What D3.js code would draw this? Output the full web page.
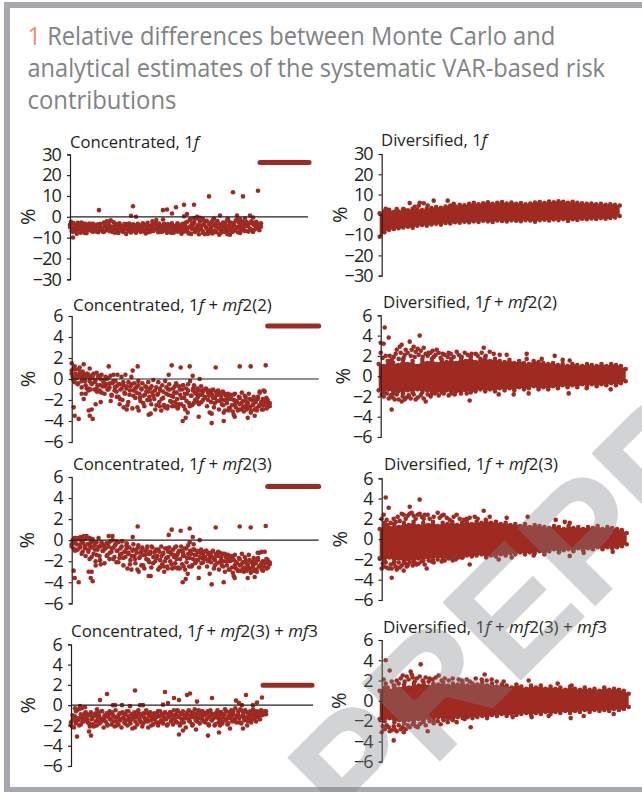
<!DOCTYPE html>
<html>
<head>
<meta charset="utf-8">
<script src="https://cdn.jsdelivr.net/npm/d3@7"></script>
<style>
  html, body { margin: 0; padding: 0; background: #fff; overflow: hidden; }
  svg { display: block; }
  text { font-family: "Open Sans", sans-serif; fill: #231f20; }
</style>
</head>
<body>
<div id="chart"></div>
<script>
// all values. x is asset rank, 0-240, y is the % difference

var titleLines = [["1", " Relative differences between Monte Carlo and"],
                  ["", "analytical estimates of the systematic VAR-based risk"],
                  ["", "contributions"]];

// odd entries are set in italics
var panelTitles = [
  ["Concentrated, 1", "f"],
  ["Diversified, 1", "f"],
  ["Concentrated, 1", "f", " + ", "mf", "2(2)"],
  ["Diversified, 1", "f", " + ", "mf", "2(2)"],
  ["Concentrated, 1", "f", " + ", "mf", "2(3)"],
  ["Diversified, 1", "f", " + ", "mf", "2(3)"],
  ["Concentrated, 1", "f", " + ", "mf", "2(3) + ", "mf", "3"],
  ["Diversified, 1", "f", " + ", "mf", "2(3) + ", "mf", "3"]
];

var wideTicks = [-30, -20, -10, 0, 10, 20, 30];
var narrowTicks = [-6, -4, -2, 0, 2, 4, 6];

// concentrated portfolios: the big position is the flat run at the far right
var bandValues = [26.1, 5.05, 5.1, 1.95];
var bandStart = [190, 196, 196, 192];
var bandEnd = [239, 247, 247, 241];
var lastRank = [191, 198, 198, 195];

var conc1 = [
-3.8,-2.4,-5.1,-7.2,-3.3,-6.1,-4.4,-8.1,-2.9,-5.6,-3.6,-7.6,-4.8,-3.1,-6.4,-5.2,-3.4,-7.9,-4.2,-5.9,
-3.2,-6.6,-4.6,-7.1,-3.5,-5.4,-4.1,-6.9,-3.7,-7.4,-4.9,-3.3,-6.2,-5.5,-7.2,-2.8,-4.4,-6.6,-2.1,-5.3,
-3.9,-6.9,-1.7,-4.7,-7.3,-2.6,-5.6,-3.4,-6.3,-4.2,-7.8,-3.1,-5.4,-6.6,-4.5,-7.2,-3.5,-5.8,-8.2,-4.3,
-6.1,-3.2,-7.1,-4.8,-5.7,-3.6,-6.7,-4.2,-7.6,-5.1,-3.3,-6.3,-4.6,-7.3,-5.4,-3.1,-6.8,-4.1,-8.0,-5.6,
-2.9,-6.2,-4.4,-7.1,-5.2,-2.1,-6.5,-3.4,-5.9,-1.5,-4.7,-7.4,-3.2,-6.0,-4.4,-7.2,-5.1,-3.3,-6.6,-4.9,
-7.7,-3.6,-5.6,-4.2,-6.9,-3.1,-5.3,-7.6,-4.5,-6.2,-3.8,-7.1,-5.0,-6.5,-4.1,-8.1,-3.4,-5.8,-7.0,-4.6,
-6.3,-2.4,-7.5,-4.9,-1.2,-8.2,-3.3,-5.5,-2.6,-7.2,-0.9,-6.1,-4.0,-8.4,-2.2,-5.7,-1.4,-7.0,-3.6,-8.3,
-4.8,-1.9,-6.4,-3.0,-7.7,-5.1,-2.5,-8.0,-4.2,-6.6,-3.4,-7.4,-2.0,-5.5,-8.6,-3.8,-6.0,-4.6,-2.7,-7.2,
-3.5,-5.9,-1.6,-6.8,-4.3,-8.6,-2.9,-5.2,-7.1,-3.1,-6.3,-1.8,-4.9,-7.4,-2.6,-5.6,-3.9,-6.6,-2.3,-5.1,
-3.4,-6.7,-2.5,-4.4,-7.1,-3.0,-5.8,-6.4,-2.8,-3.6,-6.2,-3.2,-2.4,-5.1,-3.5,-4.9,-3.7,-3.1
];
var conc1b = [
-4.9,-6.8,-3.0,-5.3,-7.0,-4.0,-6.0,-2.7,-5.0,-7.7,-3.9,-6.4,-4.7,-5.8,-3.4,-7.0,-5.1,-4.3,-6.7,-3.8,
-5.6,-7.3,-4.4,-6.0,-3.2,-5.3,-6.9,-4.8,-7.6,-3.7,-5.9,-4.2,-6.4,-7.1,-5.0,-3.5,-6.2,-4.6,-7.5,-5.4,
-3.9,-6.6,-5.2,-4.1,-7.0,-5.7,-3.6,-6.1,-4.7,-7.4,-5.3,-4.0,-6.8,-5.5,-3.3,-6.3,-4.9,-7.2,-5.8,-4.4,
-6.5,-3.7,-5.1,-7.6,-4.3,-6.0,-5.4,-3.1,-6.9,-4.8,-7.3,-5.6,-2.9,-6.2,-8.0,-4.5,-5.9,-3.5,-7.1,-5.2,
-6.6,-1.0,-4.2,-7.8,-2.3,-5.4,-8.1,-3.7,-6.3,-1.6,-7.0,-4.6,-2.8,-5.8,-7.6,-3.2,-6.5,-4.9,-8.3,-2.4,
-5.5,-7.2,-3.9,-6.1,-1.3,-4.7,-7.8,-2.9,-5.3,-6.8,-3.5,-4.4,-6.0,-2.1,-7.3,-4.1,-5.6,-3.3,-6.4,-4.8
];
var conc1Extra = [
[29,3.2],[63,5.1],[61,0.5],[66,0],[93,3.2],[97,3.5],[93,-1.3],[102,1.6],[106,4.6],[114,5.8],[124,5.8],
[114,0.3],[117,1.3],[139,9.8],[163,11.8],[173,9.8],[188,12.5],[150,0.6],[167,0.6],[180,0.6],[183,-0.3],
[175,-0.8],[144,-0.8],[127,0],[130,-0.5],[3,-9.9],[133,-1.1],[158,-0.9],[120,-1.6],[124,-0.7],[170,-1.2]
];

var conc2 = [
0.8,0.2,1.0,-0.3,0.5,0.1,-0.5,0.9,0.3,0.2,-0.2,0.7,0.4,0.0,-0.6,0.2,0.5,-0.9,-0.2,0.3,
-0.4,0.1,0.5,-1.0,-0.1,0.6,-0.6,0.3,-1.2,0.0,0.4,-0.7,-0.3,-1.4,0.2,-0.5,-1.0,0.1,-0.8,0.3,
-1.5,-0.4,0.4,-1.1,-0.2,-0.7,0.4,-1.7,-0.5,-1.0,0.2,-2.0,-0.6,-1.3,0.4,-0.9,-2.5,-0.3,-1.5,-0.7,
0.2,-2.8,-1.1,-0.4,-1.8,-0.8,-2.7,-0.2,-1.4,-2.1,-0.9,-0.4,-1.6,-2.6,-0.7,-1.2,-2.0,-0.3,-1.7,-0.9,
-2.4,-1.3,-0.1,-1.9,-2.9,-0.8,-1.5,-0.3,-2.2,-1.1,-3.0,-0.6,-1.8,-2.5,-0.2,-1.4,-2.8,-1.0,-0.5,-2.1,
-1.6,-2.6,-0.9,-1.3,-2.2,-0.4,-1.9,-2.7,-0.7,-1.5,-2.4,-1.0,-0.6,-1.8,-2.9,-0.9,-1.4,-0.5,-2.3,-0.2,
-1.6,-2.5,-1.1,-0.6,-2.0,-1.4,-0.9,-1.7,-2.4,-1.1,-0.7,-1.5,-2.0,-1.0,-1.8,-0.9,-2.6,-1.3,-1.6,-1.1,
-2.2,-1.5,-1.0,-2.7,-1.8,-1.2,-2.1,-1.5,-2.9,-1.3,-1.9,-2.4,-1.2,-2.0,-3.0,-1.6,-2.3,-1.4,-2.8,-1.9,
-1.5,-2.5,-3.1,-2.0,-1.4,-2.7,-2.2,-3.0,-1.7,-2.4,-2.9,-1.3,-2.1,-3.1,-2.6,-1.8,-2.9,-2.3,-1.4,-2.7,
-3.2,-2.0,-2.5,-1.7,-2.9,-2.2,-3.0,-1.9,-2.6,-1.3,-2.4,-2.9,-1.9,-2.5,-1.2,-2.2,-2.8,-2.0,-2.4,-2.6
];
var conc2b = [
0.5,-0.1,0.9,0.3,-0.4,0.6,-0.8,0.2,-0.2,0.5,-1.1,0.1,-0.5,0.4,-0.3,-0.9,0.2,-0.6,-1.3,-0.1,
-0.7,0.0,-1.0,-0.4,-1.6,-0.2,-0.8,-1.2,-0.5,-1.9,-0.9,-0.3,-1.4,-0.7,-2.2,-1.1,-0.5,-1.6,-0.9,-1.3,
-0.6,-1.8,-1.0,-2.3,-1.5,-0.8,-1.2,-2.0,-0.7,-1.6,-1.1,-2.5,-1.4,-0.9,-1.9,-1.2,-2.7,-0.8,-1.5,-1.0,
-2.2,-1.7,-0.7,-1.3,-2.4,-1.0,-1.8,-0.6,-1.4,-2.1,-1.1,-2.6,-1.6,-0.9,-1.3,-1.9,-1.1,-1.5,-2.2,-1.2,
-1.7,-1.0,-2.0,-1.4,-1.2,-1.8,-2.3,-1.5,-1.1,-2.1,-1.6,-2.5,-1.4,-2.0,-1.7,-2.8,-1.9,-1.5,-2.4,-2.1,
-2.9,-1.8,-2.3,-2.7,-1.6,-2.2,-2.6,-1.9,-3.0,-2.4,-2.0,-2.8,-1.7,-2.5,-2.2,-2.9,-2.1,-1.8,-2.6,-2.3
];
var conc2Extra = [
[37,1.2],[66,1.2],[61,0.8],[100,1.3],[109,1.1],[118,1.2],[144,1.1],[168,1.2],[179,1.2],[194,1.3],[97,0.4],
[128,0],[121,0.3],[2,-2.7],[3,-3.5],[7,-3.8],[17,-3],[20,-2.9],[18,-3.5],[21,-3.8],[24,-2.4],[29,-2.2],
[39,-2.1],[67,-3],[77,-3.4],[79,-3.3],[111,-4],[114,-3.7],[127,-3.6],[140,-4.2],[152,-4],[176,-3.7],[183,-3.5],
[138,-3.2],[140,-3.3],[163,-3.6],[162,-3.4],[0,1.5],[3,1.2],[12,1.4],[18,1],[8,1.1],[157,-3],[152,-3.2],
[10,-1.4],[14,-1.4],[12,-1.9],[15,-0.9],[19,-1],[25,-1.2],[28,-1.1],[45,-1.7],[48,-2.4],[52,-2.7],[55,-2.9],
[88,-2.6],[92,-2.5],[96,-2.6],[103,-2.6],[106,-2.8],[112,-2.6],[116,-3.2],[122,-2.3],[126,-2.2],[192,-1.1],[188,-1.2]
];

var conc3 = [
-0.4,0.0,-0.8,0.2,-0.3,0.1,-0.9,0.2,-0.5,0.3,-0.2,-1.1,0.1,-0.6,-1.5,0.4,-0.4,-0.9,-1.8,-0.2,
-0.7,0.1,-1.3,-0.5,-2.0,-0.2,-0.9,0.2,-1.5,-0.6,-0.2,-1.0,-0.5,-2.2,-0.8,-0.3,-1.4,-0.6,-1.8,-0.1,
-1.1,0.4,-0.7,-1.6,-0.4,-2.1,-1.0,-0.2,-1.7,-0.8,-1.3,-0.1,-2.4,-1.1,-1.6,-0.5,-2.7,-1.2,-0.7,-1.9,
-2.8,-1.0,-0.4,-1.5,-2.2,-0.9,-2.8,-0.5,-1.7,-1.2,-2.4,-0.7,-1.4,-2.7,-1.0,-1.8,-0.6,-1.3,-2.1,-1.1,
-2.6,-0.7,-1.6,-1.2,-2.0,-0.9,-1.5,-2.8,-1.1,-1.9,-0.6,-2.3,-1.3,-3.0,-0.8,-1.7,-2.5,-1.1,-0.7,-2.0,
-1.3,-2.7,-0.9,-1.6,-2.2,-0.6,-1.4,-2.6,-1.0,-1.8,-0.6,-2.3,-1.2,-1.5,-2.8,-0.8,-1.7,-0.5,-2.5,-1.0,
-1.3,-2.4,-1.8,-0.9,-2.2,-1.4,-1.0,-1.9,-2.6,-1.2,-0.9,-1.7,-2.1,-1.1,-1.6,-1.0,-2.5,-1.3,-1.8,-1.2,
-2.1,-1.6,-1.0,-2.7,-1.9,-1.3,-2.2,-1.5,-2.8,-1.2,-1.9,-2.4,-1.3,-2.0,-3.0,-1.6,-2.4,-1.4,-2.8,-2.0,
-1.5,-2.6,-3.1,-1.9,-1.4,-2.7,-2.2,-2.9,-1.7,-2.4,-2.9,-1.3,-2.1,-3.0,-2.6,-1.9,-2.9,-2.3,-1.4,-2.7,
-3.1,-2.1,-2.6,-1.7,-2.9,-2.2,-3.0,-1.9,-2.5,-1.2,-2.4,-2.8,-2.0,-2.5,-1.1,-2.2,-2.7,-1.9,-2.3,-2.1
];
var conc3b = [
-0.6,-0.2,-1.0,-0.4,0.1,-0.7,-1.3,-0.3,-0.8,0.2,-1.1,-0.5,-1.6,-0.2,-0.9,-1.4,-0.6,-1.9,-0.4,-1.0,
-0.7,-1.5,-0.3,-1.2,-0.8,-1.8,-0.5,-1.0,-2.1,-1.4,-0.6,-1.7,-1.1,-0.8,-1.3,-2.3,-1.5,-0.9,-1.8,-1.2,
-0.7,-1.6,-1.0,-2.4,-1.4,-0.9,-1.9,-1.3,-0.6,-2.2,-1.1,-1.7,-0.9,-2.6,-1.5,-1.2,-2.0,-0.8,-1.6,-1.1,
-2.3,-1.4,-0.7,-1.8,-1.2,-2.7,-1.0,-1.5,-0.8,-2.1,-1.3,-1.7,-2.5,-0.9,-1.4,-1.9,-1.1,-1.6,-2.2,-1.3,
-1.8,-1.0,-2.0,-1.4,-1.2,-1.7,-2.4,-1.5,-1.1,-2.1,-1.6,-2.5,-1.3,-2.0,-1.7,-2.8,-1.9,-1.5,-2.4,-2.1,
-2.9,-1.8,-2.3,-2.7,-1.6,-2.2,-2.6,-1.9,-3.0,-2.4,-2.0,-2.8,-1.7,-2.5,-2.2,-2.9,-2.1,-1.8,-2.6,-2.3
];
var conc3Extra = [
[66,1.3],[97,0.5],[100,1],[109,0.9],[118,1.1],[121,0.3],[128,0],[144,1.2],[168,1.3],[179,1.2],[194,1.35],
[37,0.4],[61,0.3],[2,-2.9],[3,-3.6],[7,-4],[17,-3],[20,-3],[19,-3.6],[21,-3.9],[24,-2.4],[29,-2.3],[67,-3],
[77,-3.4],[79,-3.4],[111,-4],[114,-3.7],[127,-3.6],[140,-4.2],[152,-4],[176,-3.6],[183,-3.5],[138,-3.2],
[163,-3.6],[162,-3.4],[4,0.2],[8,0.1],[12,0.4],[18,0.2],[41,0],[45,-0.1],[50,-0.1],[55,-0.3],[118,-0.2],
[122,-0.4],[88,-2.6],[92,-2.5],[96,-2.7],[103,-2.6],[106,-2.7],[112,-2.5],[116,-3.2],[124,-2.1],[190,-1.1],[186,-1.2]
];

var conc4 = [
-1.7,-2.1,-1.4,-2.2,-1.1,-1.8,-0.5,-1.5,-0.4,-1.3,-1.9,-0.3,-1.2,-1.6,-0.8,-1.3,-0.9,-1.7,-1.0,-2.1,
-0.7,-1.4,-1.9,-1.1,-0.9,-1.6,-2.0,-1.2,-0.7,-1.8,-1.3,-0.6,-1.5,-2.2,-1.0,-1.6,-0.8,-2.0,-1.2,-0.6,
-1.4,-1.9,-0.9,-1.1,-2.1,-0.5,-1.6,-1.2,-1.9,-0.8,-1.4,-2.2,-0.7,-1.2,-1.7,-0.9,-1.5,-2.0,-0.6,-1.3,
-1.8,-0.9,-2.3,-1.2,-0.7,-1.6,-1.0,-1.9,-0.5,-1.3,-0.9,-1.7,-2.1,-0.8,-1.2,-1.6,-0.5,-1.4,-2.2,-1.0,
-0.7,-1.5,-1.2,-1.9,-0.8,-1.3,-1.7,-0.9,-2.0,-1.1,-0.6,-1.5,-0.9,-1.8,-1.2,-0.7,-1.4,-2.0,-0.9,-1.2,
-0.7,-1.6,-1.0,-1.9,-0.5,-1.3,-0.9,-1.7,-0.6,-1.1,-2.0,-0.8,-1.4,-0.6,-1.7,-1.0,-2.2,-0.9,-1.3,-0.5,
-1.6,-1.0,-0.7,-1.9,-1.2,-0.4,-1.5,-0.8,-1.2,-0.5,-1.8,-0.9,-1.3,-0.6,-1.6,-1.0,-0.8,-1.4,-0.6,-1.9,
-1.1,-0.7,-1.5,-0.9,-1.3,-2.0,-0.8,-1.2,-0.5,-1.7,-1.0,-1.4,-0.7,-1.8,-1.2,-0.9,-1.5,-0.6,-1.9,-1.1,
-0.7,-1.3,-0.5,-1.6,-0.9,-1.4,-0.3,-1.7,-1.0,-0.6,-1.3,-0.4,-1.8,-1.1,-0.7,-1.5,-0.5,-1.2,-2.0,-0.8,
-1.4,-0.6,-1.7,-1.0,-0.4,-1.3,-0.9,-1.6,-0.6,-1.1,-0.8,-1.4,-0.5,-1.0,-0.7,-0.8,-0.9,-0.6
];
var conc4b = [
-1.9,-1.0,-1.5,-0.6,-1.3,-2.0,-0.9,-1.6,-1.1,-0.7,-1.4,-1.8,-1.0,-1.2,-2.1,-0.8,-1.5,-1.0,-1.7,-0.6,
-1.3,-1.1,-1.9,-0.9,-1.4,-0.7,-1.6,-1.2,-2.0,-1.0,-1.5,-0.8,-1.3,-1.8,-0.6,-1.1,-1.6,-1.4,-0.9,-2.2,
-1.2,-0.7,-1.5,-1.0,-1.8,-1.3,-0.8,-1.6,-1.1,-2.0,-0.9,-1.4,-1.2,-0.6,-1.7,-1.0,-1.5,-0.8,-1.3,-1.9,
-1.1,-0.7,-1.4,-1.0,-1.6,-0.5,-1.2,-1.8,-0.9,-1.3,-1.0,-0.7,-1.5,-1.2,-2.0,-0.8,-1.1,-1.6,-1.3,-0.6,
-1.4,-1.0,-1.7,-0.8,-1.2,-0.5,-1.5,-1.1,-1.9,-0.9,-1.3,-0.7,-1.6,-1.0,-0.4,-1.4,-1.8,-0.8,-1.1,-0.6,
-1.5,-1.2,-0.9,-1.7,-0.5,-1.0,-1.3,-0.7,-1.6,-1.1,-0.8,-1.4,-0.6,-1.2,-0.9,-1.0,-0.7,-0.8,-0.6,-0.9
];
var conc4Extra = [
[6,-3.1],[18,-2.6],[20,-3],[29,0.5],[36,1.1],[64,1.45],[94,1.3],[103,0.7],[108,0.5],[116,1],[119,1.15],
[108,-2.9],[112,-2.5],[125,-2.4],[137,-3],[148,-2.7],[141,0.7],[175,1],[191,0.75],[165,0.45],[172,-2.3],
[138,-2],[121,-1.9],[149,-2],[159,-2.3],[42,0],[44,0],[51,0],[59,-0.1],[69,0],[72,0],[92,0.05],[97,0.2],
[126,0.35],[182,0],[186,0.25],[168,0.2],[171,0],[4,-0.3],[9,-0.1],[14,-0.2],[26,-0.4]
];

// diversified portfolios: thousands of overlapping dots merge into a solid mass.
var divEnd = [238, 245, 245, 247];

var div1Top = [0.8,1.8,2.5,1.4,1.6,2.8,2.2,3.0,2.6,2.4,3.1,3.4,3.8,3.5,4.1,4.6,4.3,5.0,4.7,5.4,5.9,5.2,5.7,6.2,5.5,5.9,6.3,5.6,6.1,5.4,5.8,5.2,5.6,6.1,6.3,5.8,6.5,6.2,6.7,6.4,6.0,6.4,5.9,5.7,5.4,5.6,5.2,5.4,5.0,5.2,4.9,4.6];
var div1Bottom = [-10.8,-8.6,-7.4,-7.0,-6.6,-6.2,-5.9,-6.3,-5.4,-5.0,-5.4,-4.7,-4.4,-4.8,-4.0,-4.3,-3.6,-3.9,-3.4,-3.7,-3.2,-3.5,-2.9,-3.2,-3.5,-2.8,-3.0,-3.3,-2.7,-2.9,-3.1,-2.6,-2.8,-3.4,-2.6,-2.4,-2.8,-2.3,-2.6,-2.1,-3.0,-2.2,-2.5,-1.9,-2.2,-1.8,-2.0,-1.6,-1.9,-1.5,-1.3,-0.6];
var div1Extra = [[28,5.8],[38,6],[42,5.7],[52,7],[66,7],[37,4.5],[15,2.8],[22,2.8],[4,3],[8,1.2],[72,5.4],[33,4],[46,4.6]];

var div2Top = [1.2,1.0,1.5,1.3,1.1,1.6,1.2,1.5,1.0,1.6,1.3,1.7,1.2,1.6,1.4,1.7,1.3,1.8,1.5,1.9,1.4,1.7,1.8,1.5,1.7,1.5,1.4,1.6,1.3,1.5,1.3,1.2,1.5,1.4,1.3,1.2,1.3,1.1,1.2,1.0,1.2,1.1,1.0,1.2,1.1,1.0,1.2,1.0,1.2,1.1,1.0,0.7];
var div2Bottom = [-1.4,-1.6,-1.3,-1.7,-1.5,-1.7,-1.4,-1.6,-1.3,-1.6,-1.4,-1.7,-1.5,-1.6,-1.4,-1.7,-1.5,-1.7,-1.4,-1.6,-1.5,-1.3,-1.5,-1.3,-1.5,-1.2,-1.4,-1.2,-1.4,-1.1,-1.3,-1.2,-1.0,-1.3,-1.1,-1.3,-1.0,-1.2,-0.9,-1.1,-0.9,-1.1,-0.8,-1.0,-0.8,-1.0,-0.8,-0.9,-0.7,-0.9,-0.7,-0.5];
var div2Extra = [[4,4.8],[8,3.8],[0,3.3],[3,3.2],[0,2.3],[39,4],[29,3.4],[11,-3.3],[45,-2.5],[89,-2.4],[103,2.8],[146,2.2],[174,2],[230,-1.3],[21,3.1],[16,2.6],[19,2.9],[25,2.6],[33,2.9],[37,2.7],[43,2.8],[52,2.5],[56,2.6],[76,2.4],[84,2.3],[95,2.2],[109,2.4],[119,2.1],[126,2.1],[146,1.7],[161,1.7],[182,1.6],[189,1.55],[21,-2.5],[14,-2.3],[26,-2.1],[35,-2.3],[74,-1.8],[86,-1.7],[118,-1.8],[133,-1.8],[148,-1.7],[188,-1.7],[206,-1.2],[48,2.3],[62,2.2],[68,2.3],[91,2.2],[101,2.3],[113,2.2],
[2,1.8],[5,2.0],[7,1.5],[9,2.0],[11,1.6],[13,1.9],[15,2.2],[18,1.7],[20,2.3],[23,1.8],[24,2.1],[27,2.3],[30,2.0],[31,2.6],[34,1.9],[35,2.4],[38,2.1],[40,2.5],[42,1.9],[45,2.2],[47,2.0],[50,2.3],[53,1.9],[55,2.1],[58,2.3],[60,1.8],[64,2.1],[67,1.9],[70,2.2],[73,1.9],[78,2.1],[81,1.9],[87,2.1],[90,1.9],[97,2.0],[105,2.0],
[1,-1.8],[3,-2.0],[6,-1.7],[8,-2.2],[10,-1.9],[12,-2.1],[16,-1.8],[18,-2.3],[22,-2.0],[24,-2.3],[28,-1.9],[30,-2.2],[33,-1.8],[37,-2.1],[40,-1.9],[43,-2.2],[47,-1.8],[50,-2.0],[54,-1.7],[58,-1.9],[63,-1.7],[68,-1.9],[72,-1.6]];

var div3Top = [1.0,1.3,1.1,1.5,1.2,1.6,1.4,1.7,1.3,1.6,1.4,1.7,1.3,1.6,1.5,1.7,1.4,1.6,1.7,1.5,1.7,1.6,1.8,1.6,1.7,1.5,1.6,1.4,1.5,1.3,1.5,1.2,1.4,1.3,1.2,1.1,1.3,1.2,1.0,1.3,1.1,1.2,1.0,1.2,1.1,1.3,1.0,1.2,1.1,1.0,0.9,0.6];
var div3Bottom = [-1.9,-2.1,-1.8,-2.2,-1.9,-2.3,-2.0,-2.2,-1.9,-2.1,-1.8,-2.0,-1.7,-2.0,-1.8,-1.9,-1.7,-1.8,-1.6,-1.7,-1.6,-1.5,-1.8,-1.6,-1.7,-1.5,-1.6,-1.4,-1.5,-1.3,-1.5,-1.3,-1.4,-1.2,-1.5,-1.2,-1.0,-1.3,-1.1,-1.0,-1.2,-0.9,-1.1,-0.9,-1.0,-0.8,-1.0,-0.8,-0.9,-0.8,-0.7,-0.5];
var div3Extra = [[4,4.1],[7,3.1],[38,3.9],[28,3.2],[0,2],[2,2.4],[10,-3.8],[45,-2.9],[88,-2.5],[102,2.8],[125,2.1],[146,2.2],[174,1.9],[183,1.7],[188,1.6],[231,-1.25],[20,2.5],[30,2.6],[38,2.5],[43,2.4],[56,2.6],[62,2.4],[75,2.4],[85,2],[93,2.2],[108,2.2],[117,-2],[130,-1.8],[152,-1.6],[188,-1.65],[202,-1.35],[0,-2.9],[7,-2.9],[15,-3],[22,-3.1],[25,-2.7],[35,-2.5],[50,-2.2],[60,-2.2],[74,-2],[81,-1.8],
[3,1.6],[5,1.9],[6,1.4],[9,1.6],[12,2.0],[14,1.7],[16,2.2],[18,1.8],[22,2.4],[24,2.0],[26,2.3],[28,2.5],[32,2.3],[34,2.0],[36,2.4],[40,2.2],[42,2.0],[46,2.4],[48,2.0],[52,2.2],[58,2.1],[60,2.3],[65,2.1],[68,1.9],[72,2.2],[78,2.0],[82,1.9],[88,2.1],[96,2.0],[104,1.9],
[1,-2.4],[2,-2.7],[4,-2.3],[5,-2.8],[9,-2.5],[10,-2.9],[12,-2.4],[14,-2.7],[17,-2.3],[18,-2.8],[20,-2.6],[24,-2.4],[26,-2.6],[28,-2.3],[31,-2.6],[33,-2.3],[37,-2.4],[40,-2.2],[43,-2.5],[47,-2.1],[52,-2.3],[56,-2.0],[63,-2.1],[67,-1.9],[71,-2.1],[77,-1.8]];

var div4Top = [1.0,1.3,1.0,1.5,1.2,1.6,1.3,1.7,1.5,1.8,1.4,1.7,1.6,1.8,1.5,1.7,1.6,1.8,1.5,1.7,1.6,1.8,1.5,1.7,1.4,1.6,1.5,1.3,1.6,1.4,1.2,1.5,1.3,1.5,1.2,1.4,1.2,1.3,1.1,1.4,1.2,1.1,1.3,1.1,1.2,1.0,1.3,1.1,1.2,1.1,1.0,0.7];
var div4Bottom = [-1.8,-2.0,-1.7,-2.1,-1.9,-2.2,-1.9,-2.1,-1.8,-2.0,-1.7,-1.9,-1.6,-1.8,-1.7,-1.9,-1.6,-1.7,-1.6,-1.7,-1.6,-1.5,-1.7,-1.4,-1.5,-1.3,-1.5,-1.3,-1.4,-1.3,-1.2,-1.4,-1.2,-1.3,-1.1,-1.3,-1.1,-1.2,-1.0,-1.2,-1.0,-1.1,-0.9,-1.1,-0.9,-1.0,-0.9,-1.0,-0.8,-0.9,-0.8,-0.6];
var div4Extra = [[4,4],[8,3],[39,3.6],[29,2.9],[12,-3.9],[46,-3],[89,-2.6],[103,2.6],[147,2],[176,1.7],[190,1.5],[189,-1.7],[232,-1.3],[202,-1.5],[0,-3.1],[8,-3],[15,-3],[22,-3.1],[36,-2.6],[59,-2.3],[75,-2.1],[83,-1.8],[2,2.1],[21,2.5],[30,2.6],[48,2.2],[57,2.5],[77,2.1],[85,2.1],[100,2.1],[110,2.1],[122,1.9],[131,-1.6],[150,-1.6],[167,-1.5],
[4,1.7],[6,1.3],[10,1.9],[12,1.5],[15,2.0],[17,1.7],[19,2.2],[23,1.9],[25,2.4],[27,2.1],[31,2.3],[33,1.9],[35,2.2],[38,2.4],[41,2.0],[44,2.3],[47,1.9],[51,2.1],[54,2.3],[60,2.0],[63,2.2],[67,2.0],[71,2.2],[80,2.0],[88,1.9],[94,2.2],[105,2.0],[115,1.9],
[1,-2.5],[3,-2.8],[5,-2.4],[7,-2.6],[10,-2.9],[12,-2.5],[13,-2.8],[17,-2.4],[19,-2.8],[21,-2.6],[24,-2.8],[26,-2.4],[28,-2.6],[31,-2.3],[34,-2.5],[38,-2.3],[41,-2.1],[44,-2.4],[48,-2.0],[52,-2.2],[56,-2.0],[62,-1.9],[66,-2.1],[70,-1.8]];

var concData = [conc1, conc2, conc3, conc4];
var concMore = [conc1b, conc2b, conc3b, conc4b];
var concExtra = [conc1Extra, conc2Extra, conc3Extra, conc4Extra];
var divTop = [div1Top, div2Top, div3Top, div4Top];
var divBottom = [div1Bottom, div2Bottom, div3Bottom, div4Bottom];
var divExtra = [div1Extra, div2Extra, div3Extra, div4Extra];

var width = 642;
var height = 792;
var red = "#9e2a22";

// where each panel sits on the page
var layout = [
  {ax: 70,    top: 154.3, bot: 279.3, ticks: wideTicks,   pct: 28,  titleX: 70,  titleW: 129, titleY: 148, lineEnd: 238},
  {ax: 381.7, top: 154,   bot: 275.7, ticks: wideTicks,   pct: 340, titleX: 381, titleW: 106, titleY: 146},
  {ax: 71.7,  top: 316,   bot: 442,   ticks: narrowTicks, pct: 28,  titleX: 73,  titleW: 199, titleY: 310.7, lineEnd: 247},
  {ax: 380.7, top: 315.3, bot: 437,   ticks: narrowTicks, pct: 343, titleX: 383, titleW: 174, titleY: 308},
  {ax: 71.7,  top: 477,   bot: 603.3, ticks: narrowTicks, pct: 27,  titleX: 73,  titleW: 199, titleY: 470, lineEnd: 247},
  {ax: 381.7, top: 478.3, bot: 600,   ticks: narrowTicks, pct: 340, titleX: 384, titleW: 174, titleY: 470},
  {ax: 71,    top: 644.3, bot: 766,   ticks: narrowTicks, pct: 28,  titleX: 71,  titleW: 247, titleY: 637, lineEnd: 242},
  {ax: 381.7, top: 640,   bot: 761.7, ticks: narrowTicks, pct: 339, titleX: 383, titleW: 224, titleY: 633}
];

var svg = d3.select("#chart").append("svg")
    .attr("width", width)
    .attr("height", height);

svg.append("rect")
    .attr("width", width).attr("height", height)
    .attr("fill", "#fff");

// grey frame, open on the right
svg.append("rect")
    .attr("x", 7).attr("y", 5)
    .attr("width", 700).attr("height", 785)
    .attr("fill", "none")
    .attr("stroke", "#a7a9ac")
    .attr("stroke-width", 6);

// squeeze the text so it takes the same width as in the reference
function fit(sel, x, w) {
  var len = sel.node().getComputedTextLength();
  sel.attr("transform", "translate(" + x + "," + sel.attr("data-y") + ") scale(" + (w / len) + ",1)");
}

var headWidths = [528, 578, 149];
titleLines.forEach(function(line, i) {
  var t = svg.append("text")
      .attr("data-y", 44.5 + i * 32)
      .style("font-size", "26px");
  if (line[0]) t.append("tspan").text(line[0]).style("fill", "#f08a6c");
  t.append("tspan").text(line[1]).style("fill", "#808285");
  fit(t, 27.5, headWidths[i]);
});

var xDomain = [0, 240];

layout.forEach(function(p, i) {
  var isConc = i % 2 === 0;
  var k = Math.floor(i / 2);
  var g = svg.append("g");

  var x = d3.scaleLinear().domain(xDomain).range([p.ax, p.ax + 240]);
  var y = d3.scaleLinear().domain(d3.extent(p.ticks)).range([p.bot, p.top]);

  var dots = [];
  if (isConc) {
    [concData[k], concMore[k]].forEach(function(vals) {
      var idx = d3.scaleLinear().domain([0, vals.length - 1]).range([0, lastRank[k]]);
      vals.forEach(function(v, j) { dots.push([idx(j), v]); });
    });
    dots = dots.concat(concExtra[k]);
  } else {
    var col = d3.scaleLinear().domain([0, divTop[k].length - 1]).range([-2, divEnd[k]]);
    var area = d3.area()
        .x(function(d, j) { return x(col(j)); })
        .y0(function(d, j) { return y(divBottom[k][j]); })
        .y1(function(d) { return y(d); });
    g.append("path")
        .attr("d", area(divTop[k]))
        .attr("fill", red);
    divTop[k].forEach(function(v, j) { dots.push([col(j), v]); });
    divBottom[k].forEach(function(v, j) { dots.push([col(j), v]); });
    dots = dots.concat(divExtra[k]);
  }

  g.selectAll("circle")
      .data(dots)
      .enter()
      .append("circle")
      .attr("cx", function(d) { return x(d[0]); })
      .attr("cy", function(d) { return y(d[1]); })
      .attr("r", 2.3)
      .attr("fill", red);

  if (isConc) {
    var line = d3.line().x(function(d) { return x(d); }).y(y(bandValues[k]));
    g.append("path")
        .attr("d", line([bandStart[k], bandEnd[k]]))
        .attr("stroke", red)
        .attr("stroke-width", 5)
        .attr("stroke-linecap", "round")
        .attr("fill", "none");
    g.append("line")
        .attr("x1", x(0)).attr("x2", x(p.lineEnd))
        .attr("y1", y(0)).attr("y2", y(0))
        .attr("stroke", "#231f20")
        .attr("stroke-width", 1.2);
  }

  var axis = d3.axisLeft(y)
      .tickValues(p.ticks)
      .tickSize(3)
      .tickPadding(6);
  var ag = g.append("g")
      .attr("transform", "translate(" + p.ax + ",0)")
      .call(axis);
  ag.selectAll("path, line").attr("stroke", "#231f20").attr("stroke-width", 1.2);
  ag.selectAll("text")
      .style("font-size", "18px")
      .style("letter-spacing", "-0.9px")
      .style("font-family", "'Open Sans', sans-serif");

  g.append("text")
      .attr("transform", "translate(" + (p.pct + 7) + "," + ((p.top + p.bot) / 2) + ") rotate(-90)")
      .attr("text-anchor", "middle")
      .style("font-size", "20px")
      .text("%");

  var t = g.append("text")
      .attr("data-y", p.titleY)
      .style("font-size", "16px");
  panelTitles[i].forEach(function(part, j) {
    t.append("tspan").text(part).style("font-style", j % 2 ? "italic" : "normal");
  });
  fit(t, p.titleX, p.titleW);
});

// watermark lies over everything
svg.append("g")
    .attr("opacity", 0.35)
  .append("text")
    .attr("transform", "translate(358,842) rotate(-45)")
    .style("font-family", "'Liberation Sans Narrow', 'Liberation Sans', sans-serif")
    .style("font-weight", "700")
    .style("font-size", "158px")
    .style("fill", "#808285")
    .style("stroke", "#808285")
    .style("stroke-width", "2px")
    .text("PREPROOF");
</script>
</body>
</html>
